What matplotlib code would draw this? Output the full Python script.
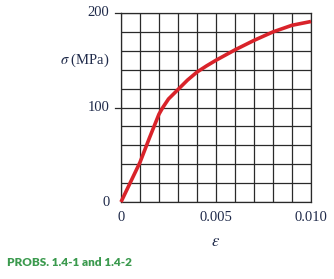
import matplotlib
matplotlib.use("Agg")
import matplotlib.pyplot as plt
import numpy as np

plt.rcParams["mathtext.fontset"] = "stix"

# data
strain = [0.0, 0.0005, 0.0010, 0.0015, 0.0020, 0.0022, 0.0025, 0.0030, 0.0035, 0.0040,
          0.0045, 0.0050, 0.0060, 0.0070, 0.0080, 0.0090, 0.0100]
stress = [0.0, 21, 42, 68, 93, 100, 109, 119, 129, 137.5,
          144, 150, 161, 171, 180, 187, 191]
xticks = [0, 0.005, 0.010]
xticklabels = ["0", "0.005", "0.010"]
yticks = [0, 100, 200]
yticklabels = ["0", "100", "200"]

fig = plt.figure(figsize=(3.34, 2.79), dpi=100)
W, H = 334, 279
ax = fig.add_axes([121 / W, 1 - 202 / H, 190 / W, 189 / H])

ax.set_xlim(0, 0.010)
ax.set_ylim(0, 200)
ax.set_xticks(np.linspace(0, 0.010, 11))
ax.set_yticks(np.linspace(0, 200, 11))
ax.grid(True, color="#2a2a2a", linewidth=0.9)
ax.tick_params(length=0, labelleft=False, labelbottom=False)
for s in ax.spines.values():
    s.set_color("#2a2a2a")
    s.set_linewidth(0.9)

ax.plot(strain, stress, color="#d9232a", linewidth=2.6, solid_capstyle="butt",
        solid_joinstyle="round", zorder=5, clip_on=False)

txtc = "#1f2a4a"
serif = ["Liberation Serif", "DejaVu Serif"]
for v, lab in zip(yticks, yticklabels):
    ax.text(-0.0006, v, lab, ha="right", va="center", fontsize=10.5, family=serif, color=txtc)
    if v > 0:
        ax.plot([-0.0003, 0], [v, v], color="#2a2a2a", linewidth=0.9, clip_on=False)
for v, lab in zip(xticks, xticklabels):
    ax.text(v, -10, lab, ha="center", va="top", fontsize=10.5, family=serif, color=txtc)

ax.text(-0.0006, 150, r"$\sigma\ $" + "(MPa)", ha="right", va="center", fontsize=10.5, family=serif, color=txtc)
ax.text(0.005, -41, r"$\epsilon$", ha="center", va="center", fontsize=12, color=txtc)

fig.text(7 / W, 1 - 263 / H, "PROBS. 1.4-1 and 1.4-2", ha="left", va="center", fontsize=8.5,
         family=["Lato", "DejaVu Sans"], weight="heavy", color="#3b9a4e")

fig.savefig("out.png", dpi=100)
